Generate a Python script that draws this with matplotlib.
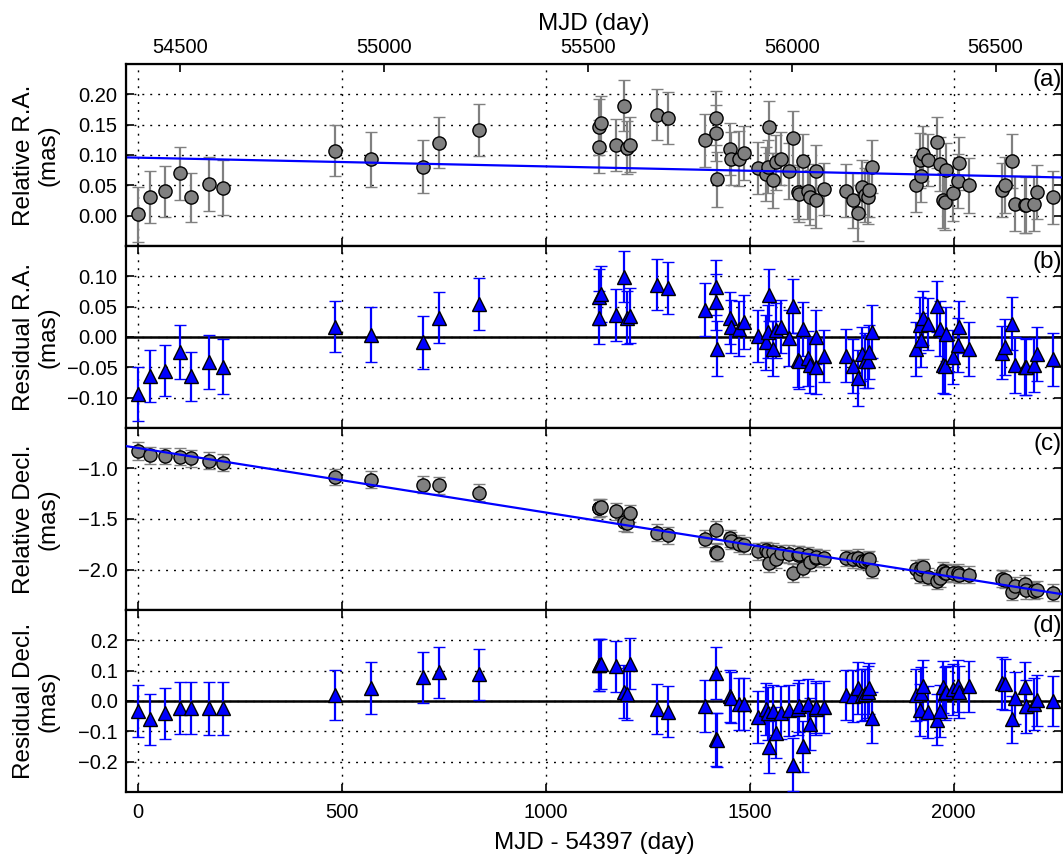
import numpy as np
import matplotlib
matplotlib.use("Agg")
import matplotlib.pyplot as plt

MJD0 = 54397

# epochs (MJD - 54397)
days = [0, 28, 65, 103, 130, 173, 209, 483, 570, 698, 738, 836,
        1130, 1131, 1134, 1172, 1192, 1198, 1206, 1273, 1300, 1390, 1417, 1418, 1419, 1451, 1453, 1474, 1485,
        1520, 1541, 1545, 1547, 1556, 1565, 1576, 1596, 1605, 1618, 1622, 1631, 1643, 1647, 1662, 1663, 1682,
        1735, 1753, 1765, 1776, 1782, 1790, 1793, 1801,
        1907, 1917, 1921, 1924, 1937, 1960, 1966, 1974, 1978, 1982, 1998, 2011, 2013, 2038,
        2119, 2125, 2144, 2150, 2174, 2178, 2196, 2204, 2245]

ra_rel = [0.002, 0.031, 0.040, 0.070, 0.030, 0.052, 0.046, 0.107, 0.093, 0.081, 0.120, 0.141,
          0.114, 0.146, 0.152, 0.117, 0.181, 0.112, 0.117, 0.166, 0.161, 0.124, 0.161, 0.136, 0.060, 0.110, 0.094, 0.094, 0.103,
          0.079, 0.069, 0.081, 0.146, 0.058, 0.088, 0.094, 0.073, 0.128, 0.039, 0.035, 0.090, 0.040, 0.030, 0.073, 0.025, 0.044,
          0.041, 0.025, 0.004, 0.047, 0.034, 0.030, 0.043, 0.081,
          0.051, 0.091, 0.066, 0.102, 0.092, 0.121, 0.085, 0.025, 0.022, 0.075, 0.037, 0.057, 0.086, 0.050,
          0.042, 0.051, 0.090, 0.020, 0.018, 0.018, 0.020, 0.039, 0.030]

ra_res = [-0.094, -0.064, -0.056, -0.025, -0.065, -0.041, -0.049, 0.017, 0.004, -0.009, 0.032, 0.054,
          0.032, 0.066, 0.071, 0.036, 0.099, 0.032, 0.035, 0.086, 0.081, 0.045, 0.082, 0.058, -0.019, 0.031, 0.017, 0.014, 0.025,
          0.002, -0.009, 0.009, 0.069, -0.019, 0.011, 0.017, -0.002, 0.051, -0.038, -0.040, 0.013, -0.035, -0.046, 0.000, -0.049, -0.031,
          -0.031, -0.048, -0.068, -0.028, -0.039, -0.040, -0.025, 0.009,
          -0.020, 0.020, -0.005, 0.031, 0.021, 0.051, 0.014, -0.046, -0.048, 0.005, -0.033, -0.013, 0.017, -0.020,
          -0.026, -0.016, 0.022, -0.046, -0.049, -0.049, -0.046, -0.028, -0.037]

ra_err = [0.045, 0.043, 0.042, 0.044, 0.041, 0.045, 0.045, 0.042, 0.045, 0.044, 0.042, 0.043,
          0.044, 0.046, 0.046, 0.043, 0.042, 0.044, 0.045, 0.042, 0.043, 0.044, 0.045, 0.046, 0.045, 0.043, 0.044, 0.045, 0.044,
          0.043, 0.045, 0.044, 0.043, 0.046, 0.045, 0.044, 0.046, 0.044, 0.045, 0.046, 0.044, 0.045, 0.046, 0.044, 0.045, 0.043,
          0.044, 0.045, 0.046, 0.044, 0.045, 0.044, 0.045, 0.043,
          0.045, 0.046, 0.044, 0.045, 0.043, 0.042, 0.045, 0.046, 0.046, 0.044, 0.045, 0.044, 0.043, 0.045,
          0.044, 0.046, 0.044, 0.046, 0.047, 0.046, 0.045, 0.044, 0.043]

dec_rel = [-0.829, -0.871, -0.878, -0.884, -0.901, -0.923, -0.943, -1.083, -1.112, -1.162, -1.168, -1.238,
           -1.395, -1.390, -1.385, -1.423, -1.527, -1.540, -1.444, -1.637, -1.663, -1.696, -1.609, -1.828, -1.832, -1.690, -1.716, -1.743, -1.762,
           -1.820, -1.808, -1.824, -1.938, -1.824, -1.900, -1.841, -1.847, -2.032, -1.857, -1.849, -1.989, -1.857, -1.925, -1.885, -1.878, -1.890,
           -1.885, -1.900, -1.882, -1.911, -1.913, -1.910, -1.900, -2.002,
           -1.995, -2.051, -1.999, -1.977, -2.069, -2.110, -2.085, -2.012, -2.034, -2.033, -2.035, -2.032, -2.052, -2.049,
           -2.090, -2.099, -2.226, -2.161, -2.140, -2.206, -2.208, -2.202, -2.229]

dec_res = [-0.033, -0.060, -0.041, -0.024, -0.024, -0.024, -0.024, 0.020, 0.044, 0.079, 0.095, 0.088,
           0.118, 0.118, 0.122, 0.115, 0.031, 0.022, 0.123, -0.027, -0.035, -0.016, 0.093, -0.126, -0.129, 0.016, 0.010, -0.009, -0.009,
           -0.052, -0.027, -0.040, -0.153, -0.033, -0.104, -0.038, -0.031, -0.210, -0.027, -0.016, -0.150, -0.011, -0.076, -0.027, -0.019, -0.019,
           0.020, 0.016, 0.042, 0.020, 0.022, 0.030, 0.042, -0.055,
           0.020, -0.030, 0.025, 0.049, -0.035, -0.062, -0.033, 0.045, 0.026, 0.030, 0.038, 0.049, 0.030, 0.049,
           0.060, 0.055, -0.060, 0.009, 0.045, -0.018, -0.009, 0.002, 0.001]

dec_err = [0.086, 0.084, 0.083, 0.085, 0.085, 0.087, 0.087, 0.082, 0.086, 0.084, 0.084, 0.085,
           0.085, 0.086, 0.084, 0.084, 0.088, 0.086, 0.085, 0.083, 0.084, 0.085, 0.086, 0.087, 0.088, 0.085, 0.084, 0.086, 0.085,
           0.086, 0.085, 0.087, 0.086, 0.085, 0.084, 0.086, 0.085, 0.087, 0.085, 0.086, 0.085, 0.084, 0.086, 0.085, 0.086, 0.085,
           0.082, 0.085, 0.086, 0.087, 0.085, 0.086, 0.084, 0.085,
           0.085, 0.086, 0.087, 0.085, 0.086, 0.084, 0.085, 0.086, 0.087, 0.085, 0.084, 0.086, 0.085, 0.084,
           0.086, 0.085, 0.078, 0.085, 0.084, 0.086, 0.085, 0.084, 0.083]

# linear fits: (slope per day, offset)
ra_fit = [-1.44e-5, 0.0956]
dec_fit = [-6.38e-4, -0.798]

XLIM = (-30, 2267)
x_ticks = [0, 500, 1000, 1500, 2000]
mjd_ticks = [54500, 55000, 55500, 56000, 56500]

panels = [
    ("Relative R.A.\n(mas)", "(a)", (-0.05, 0.25), [0.0, 0.05, 0.10, 0.15, 0.20], "%.2f"),
    ("Residual R.A.\n(mas)", "(b)", (-0.15, 0.15), [-0.10, -0.05, 0.0, 0.05, 0.10], "%.2f"),
    ("Relative Decl.\n(mas)", "(c)", (-2.4, -0.6), [-2.0, -1.5, -1.0], "%.1f"),
    ("Residual Decl.\n(mas)", "(d)", (-0.3, 0.3), [-0.2, -0.1, 0.0, 0.1, 0.2], "%.1f"),
]

plt.rcParams["font.family"] = ["Liberation Sans", "DejaVu Sans"]

TICK_FS = 14.5
LABEL_FS = 17.5


def style_axis(ax, ylabel, tag, ylim, yticks, fmt):
    ax.set_xlim(*XLIM)
    ax.set_ylim(*ylim)
    ax.set_xticks(x_ticks)
    ax.set_yticks(yticks)
    ax.set_yticklabels([(fmt % v).replace("-", "\u2212") for v in yticks])
    ax.grid(True, color="k", linestyle=(0, (1.4, 4.3)), linewidth=1.0)
    ax.tick_params(direction="in", length=6, width=1.2, labelsize=TICK_FS,
                   right=True, top=True)
    ax.tick_params(axis="y", pad=6)
    ax.tick_params(axis="x", pad=8)
    for s in ax.spines.values():
        s.set_linewidth(1.6)
    ax.set_ylabel(ylabel, fontsize=LABEL_FS, linespacing=1.15)
    ax.yaxis.set_label_coords(-0.0705, 0.5)
    ax.text(0.999, 0.975, tag, transform=ax.transAxes, ha="right", va="top",
            fontsize=LABEL_FS)


def main():
    fig, axes = plt.subplots(4, 1, sharex=True, figsize=(10.63, 8.59), dpi=100)
    fig.subplots_adjust(left=0.1185, right=0.9995, top=0.9255, bottom=0.078, hspace=0)

    x = np.array(days)
    xl = np.array(XLIM, dtype=float)

    circ = dict(fmt="o", ms=9.5, mfc="0.5", mec="k", mew=1.0, ecolor="0.5",
                elinewidth=1.6, capsize=4, capthick=1.6, zorder=3)
    tri = dict(fmt="^", ms=9.5, mfc="#0000ff", mec="k", mew=1.0, ecolor="#0000ff",
               elinewidth=1.6, capsize=4, capthick=1.6, zorder=3)

    ax_a, ax_b, ax_c, ax_d = axes
    ax_a.errorbar(x, ra_rel, yerr=ra_err, **circ)
    ax_a.plot(xl, np.polyval(ra_fit, xl), color="#0000ff", lw=1.6, zorder=4)

    ax_b.axhline(0, color="k", lw=1.8, zorder=2)
    ax_b.errorbar(x, ra_res, yerr=ra_err, **tri)

    ax_c.errorbar(x, dec_rel, yerr=dec_err, **circ)
    ax_c.plot(xl, np.polyval(dec_fit, xl), color="#0000ff", lw=1.6, zorder=4)

    ax_d.axhline(0, color="k", lw=1.8, zorder=2)
    ax_d.errorbar(x, dec_res, yerr=dec_err, **tri)

    for ax, p in zip(axes, panels):
        style_axis(ax, *p)
    ax_a.tick_params(top=False)

    ax_d.set_xlabel("MJD - 54397 (day)", fontsize=LABEL_FS, labelpad=7)

    top = ax_a.twiny()
    top.set_xlim(XLIM[0] + MJD0, XLIM[1] + MJD0)
    top.set_xticks(mjd_ticks)
    top.tick_params(direction="in", length=6, width=1.2, labelsize=TICK_FS, pad=5)
    top.set_xlabel("MJD (day)", fontsize=LABEL_FS, labelpad=6)

    fig.savefig("out.png", dpi=100)
    plt.close(fig)


if __name__ == "__main__":
    main()
